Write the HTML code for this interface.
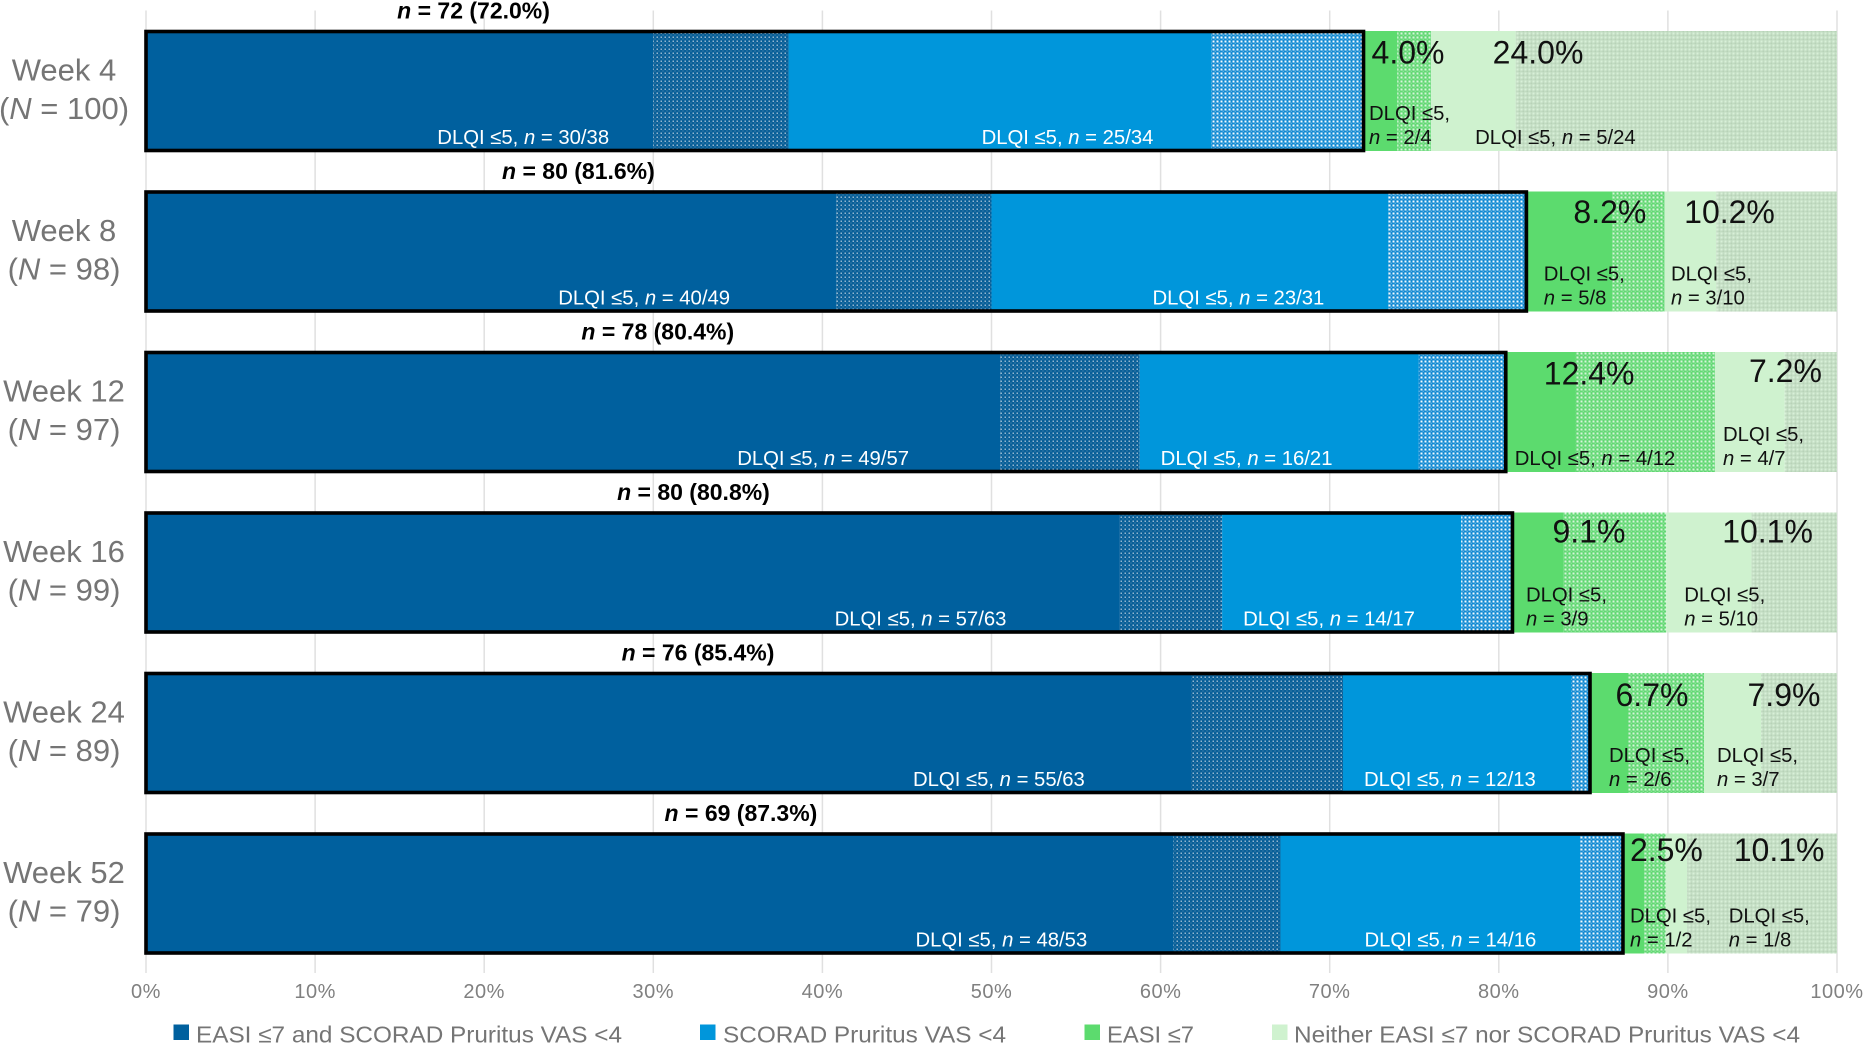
<!DOCTYPE html>
<html lang="en">
<head>
<meta charset="utf-8">
<title>DLQI response by week</title>
<style>
  html, body { margin: 0; padding: 0; background: #fff; }
  body { width: 1865px; height: 1046px; overflow: hidden; }
  svg { display: block; font-family: "Liberation Sans", Arial, sans-serif; }
  .week { font-size: 31px; fill: #757575; text-anchor: middle; }
  .tick { font-size: 20px; fill: #808080; text-anchor: middle; letter-spacing: 0.5px; }
  .total { font-size: 23px; font-weight: bold; fill: #000; text-anchor: middle; }
  .dlqi { font-size: 20.3px; fill: #111; }
  .dlqi-white { font-size: 20.3px; fill: #fff; }
  .big { font-size: 32px; fill: #111; }
  .legend { font-size: 23px; fill: #757575; }
</style>
</head>
<body>
<svg id="chart" xmlns="http://www.w3.org/2000/svg" width="1865" height="1046" viewBox="0 0 1865 1046">
  <defs>
    <pattern id="hatch-both" patternUnits="userSpaceOnUse" width="4" height="4">
      <rect width="4" height="4" fill="#085f98"/>
      <rect x="0.5" y="0.5" width="1.5" height="1.5" fill="#93b6cf"/>
      <rect x="2.5" y="2.5" width="1" height="1" fill="#5f93b8"/>
    </pattern>
    <pattern id="hatch-pruritus" patternUnits="userSpaceOnUse" width="4" height="4">
      <rect width="4" height="4" fill="#1089d2"/>
      <rect x="0.5" y="0.5" width="2" height="2" fill="#f4fafd"/>
      <rect x="2.7" y="2.7" width="1" height="1" fill="#a4d2ee"/>
    </pattern>
    <pattern id="hatch-easi" patternUnits="userSpaceOnUse" width="4" height="4">
      <rect width="4" height="4" fill="#62d873"/>
      <rect x="0.5" y="0.5" width="2" height="2" fill="#d6f5da"/>
      <rect x="2.7" y="2.7" width="1" height="1" fill="#b0ecb8"/>
    </pattern>
    <pattern id="hatch-neither" patternUnits="userSpaceOnUse" width="4" height="4">
      <rect width="4" height="4" fill="#c2dcc2"/>
      <rect x="0.5" y="0.5" width="2" height="2" fill="#d8f0d8"/>
      <rect x="2.7" y="2.7" width="1" height="1" fill="#aecaae"/>
    </pattern>
  </defs>
  <g id="grid-layer"></g>
  <g id="bar-layer"></g>
  <g id="label-layer"></g>
  <g id="axis-layer"></g>
  <g>
    <g>
      <rect x="173.5" y="1024.5" width="15.5" height="15.5" fill="#00609e"/>
      <text class="legend" x="196" y="1042.5" textLength="426" lengthAdjust="spacingAndGlyphs">EASI ≤7 and SCORAD Pruritus VAS &lt;4</text>
    </g>
    <g>
      <rect x="700" y="1024.5" width="15.5" height="15.5" fill="#0096db"/>
      <text class="legend" x="723" y="1042.5" textLength="283" lengthAdjust="spacingAndGlyphs">SCORAD Pruritus VAS &lt;4</text>
    </g>
    <g>
      <rect x="1084.5" y="1024.5" width="15.5" height="15.5" fill="#5cdb6e"/>
      <text class="legend" x="1107" y="1042.5" textLength="87" lengthAdjust="spacingAndGlyphs">EASI ≤7</text>
    </g>
    <g>
      <rect x="1272" y="1024.5" width="15.5" height="15.5" fill="#cff2cf"/>
      <text class="legend" x="1294" y="1042.5" textLength="506" lengthAdjust="spacingAndGlyphs">Neither EASI ≤7 nor SCORAD Pruritus VAS &lt;4</text>
    </g>
  </g>
</svg>
<script>
// ---- chart data ----
const weeks = ['Week 4', 'Week 8', 'Week 12', 'Week 16', 'Week 24', 'Week 52'];
const totalN = [100, 98, 97, 99, 89, 79];
const bothCount = [38, 49, 57, 63, 63, 53];
const bothDlqi = [30, 40, 49, 57, 55, 48];
const pruritusCount = [34, 31, 21, 17, 13, 16];
const pruritusDlqi = [25, 23, 16, 14, 12, 14];
const easiCount = [4, 8, 12, 9, 6, 2];
const easiDlqi = [2, 5, 4, 3, 2, 1];
const neitherCount = [24, 10, 7, 10, 7, 8];
const neitherDlqi = [5, 3, 4, 5, 3, 1];
const tickValues = [0, 10, 20, 30, 40, 50, 60, 70, 80, 90, 100];

// ---- annotation layout: label nudges relative to the mark each label belongs to ----
const totalLabelNudge = [-890, -948, -848, -819, -892, -882];
const bothLabelNudge = [-216, -278, -263, -285, -278, -258];
const pruritusLabelNudge = [193, 161, 21, 21, 21, 84];
const easiLabelNudge = [5.5, 17.4, 9, 13.5, 19, 7];
const neitherLabelNudge = [44, 6.5, 8, 18, 13, 63];
const easiBigNudge = [8, 47, 38, 40, 25.5, 7];
const neitherBigNudge = [61.5, 19.7, 34, 56, 43.5, 68];
const easiBigDrop = [32.5, 31.4, 32.7, 30.2, 32.8, 27.5];
const neitherBigDrop = [32.5, 31.4, 30, 30.2, 32.8, 27.5];
const easiTwoLine = [true, true, false, true, true, true];
const neitherTwoLine = [false, true, true, true, true, true];

// ---- axis functions ----
const SVG_NS = 'http://www.w3.org/2000/svg';
const plotLeft = 146;
const plotRight = 1837;
const rowTop = 31;
const rowPitch = 160.5;
const barHeight = 120;
function xScale(pct) { return plotLeft + (plotRight - plotLeft) * pct / 100; }
function yScale(row) { return rowTop + rowPitch * row; }

const gridLayer = document.getElementById('grid-layer');
const barLayer = document.getElementById('bar-layer');
const labelLayer = document.getElementById('label-layer');
const axisLayer = document.getElementById('axis-layer');

function make(tag, attrs, parent) {
  const el = document.createElementNS(SVG_NS, tag);
  for (const k in attrs) el.setAttribute(k, attrs[k]);
  parent.appendChild(el);
  return el;
}
function addText(parts, x, y, cls, name) {
  const t = make('text', { x: x, y: y, class: cls }, labelLayer);
  
  
  parts.forEach(function (p) {
    const s = make('tspan', p[1] ? { 'font-style': 'italic' } : {}, t);
    s.textContent = p[0];
  });
  return t;
}
function drawSegment(row, startCount, count, fill, name) {
  const N = totalN[row];
  const x0 = xScale(startCount / N * 100);
  const x1 = xScale((startCount + count) / N * 100);
  const r = make('rect', { x: x0, y: yScale(row), width: Math.max(0, x1 - x0), height: barHeight, fill: fill }, barLayer);
  
  
  return x0;
}
function dlqiLabel(x, top, yes, total, twoLine, cls, name) {
  const frac = yes + '/' + total;
  if (twoLine) {
    addText([['DLQI ≤5,', false]], x, top + 89, cls, name + '-line-1');
    addText([['n', true], [' = ' + frac, false]], x, top + 113, cls, name + '-line-2');
  } else {
    addText([['DLQI ≤5, ', false], ['n', true], [' = ' + frac, false]], x, top + 113, cls, name);
  }
}

// gridlines and x-axis ticks
tickValues.forEach(function (v) {
  const line = make('line', { x1: xScale(v), x2: xScale(v), y1: 10.5, y2: 973, stroke: '#e0e0e0', 'stroke-width': 1.5 }, gridLayer);
  
  
  const tick = make('text', { x: xScale(v), y: 998, class: 'tick' }, axisLayer);
  
  
  tick.textContent = v + '%';
});

// rows
weeks.forEach(function (week, i) {
  const N = totalN[i];
  const top = yScale(i);

  // segments: solid part = DLQI responders, dotted part = the rest
  let c = 0;
  drawSegment(i, c, bothDlqi[i], '#00609e', 'segment-both-dlqi');
  c += bothDlqi[i];
  const bothHatchX = drawSegment(i, c, bothCount[i] - bothDlqi[i], 'url(#hatch-both)', 'segment-both-other');
  c += bothCount[i] - bothDlqi[i];
  const pruritusX = drawSegment(i, c, pruritusDlqi[i], '#0096db', 'segment-pruritus-dlqi');
  c += pruritusDlqi[i];
  drawSegment(i, c, pruritusCount[i] - pruritusDlqi[i], 'url(#hatch-pruritus)', 'segment-pruritus-other');
  c += pruritusCount[i] - pruritusDlqi[i];
  const easiX = drawSegment(i, c, easiDlqi[i], '#5cdb6e', 'segment-easi-dlqi');
  c += easiDlqi[i];
  drawSegment(i, c, easiCount[i] - easiDlqi[i], 'url(#hatch-easi)', 'segment-easi-other');
  c += easiCount[i] - easiDlqi[i];
  const neitherX = drawSegment(i, c, neitherDlqi[i], '#cff2cf', 'segment-neither-dlqi');
  c += neitherDlqi[i];
  drawSegment(i, c, neitherCount[i] - neitherDlqi[i], 'url(#hatch-neither)', 'segment-neither-other');

  // outline around responder groups
  const totalResp = bothCount[i] + pruritusCount[i];
  const totalPct = totalResp / N * 100;
  const outline = make('rect', { x: plotLeft, y: top + 0.5, width: xScale(totalPct) - plotLeft, height: barHeight - 1, fill: 'none', stroke: '#000', 'stroke-width': 3.6 }, barLayer);
  
  

  // week axis labels
  addText([[week, false]], 64, top + 49.5, 'week', 'week-label');
  addText([['(', false], ['N', true], [' = ' + N + ')', false]], 64, top + 88, 'week', 'week-n-label');

  // total responders
  addText([['n', true], [' = ' + totalResp + ' (' + totalPct.toFixed(1) + '%)', false]],
    xScale(totalPct) + totalLabelNudge[i], top - 12.7, 'total', 'responder-total-label');

  // DLQI labels
  dlqiLabel(bothHatchX + bothLabelNudge[i], top, bothDlqi[i], bothCount[i], false, 'dlqi-white', 'dlqi-label-both');
  dlqiLabel(pruritusX + pruritusLabelNudge[i], top, pruritusDlqi[i], pruritusCount[i], false, 'dlqi-white', 'dlqi-label-pruritus');
  dlqiLabel(easiX + easiLabelNudge[i], top, easiDlqi[i], easiCount[i], easiTwoLine[i], 'dlqi', 'dlqi-label-easi');
  dlqiLabel(neitherX + neitherLabelNudge[i], top, neitherDlqi[i], neitherCount[i], neitherTwoLine[i], 'dlqi', 'dlqi-label-neither');

  // percentage labels
  addText([[(easiCount[i] / N * 100).toFixed(1) + '%', false]], easiX + easiBigNudge[i], top + easiBigDrop[i], 'big', 'percent-label-easi');
  addText([[(neitherCount[i] / N * 100).toFixed(1) + '%', false]], neitherX + neitherBigNudge[i], top + neitherBigDrop[i], 'big', 'percent-label-neither');
});
</script>
</body>
</html>
